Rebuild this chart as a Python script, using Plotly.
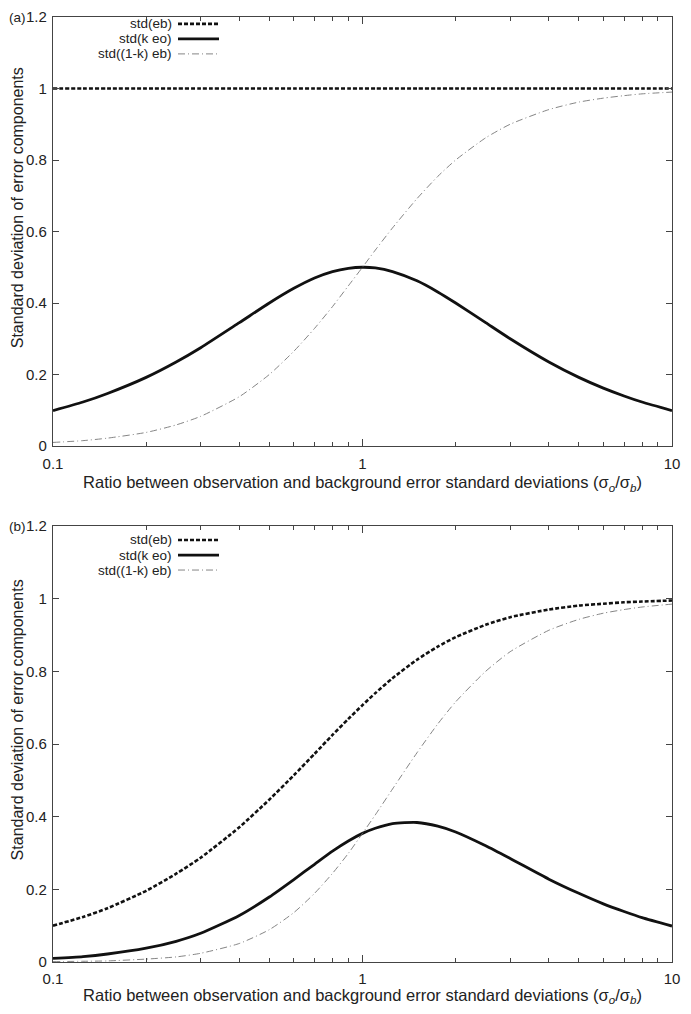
import plotly.graph_objects as go

# ratio sigma_o / sigma_b
ratio = [0.1, 0.125, 0.15, 0.2, 0.25, 0.3, 0.4, 0.5, 0.6, 0.7, 0.8, 0.9, 1.0,
         1.1, 1.25, 1.5, 1.75, 2, 2.5, 3, 4, 5, 6, 7, 8, 10]

# panel (a)
a_eb = [1.0] * len(ratio)
a_keo = [0.099, 0.123, 0.147, 0.192, 0.235, 0.275, 0.345, 0.400, 0.441, 0.470,
         0.488, 0.497, 0.500, 0.498, 0.488, 0.462, 0.431, 0.400, 0.345, 0.300,
         0.235, 0.192, 0.162, 0.140, 0.123, 0.099]
a_1keb = [0.010, 0.015, 0.022, 0.038, 0.059, 0.083, 0.138, 0.200, 0.265, 0.329,
          0.390, 0.448, 0.500, 0.548, 0.610, 0.692, 0.754, 0.800, 0.862, 0.900,
          0.941, 0.962, 0.973, 0.980, 0.985, 0.990]

# panel (b)
b_eb = [0.100, 0.124, 0.148, 0.196, 0.243, 0.287, 0.371, 0.447, 0.514, 0.573,
        0.625, 0.669, 0.707, 0.740, 0.781, 0.832, 0.868, 0.894, 0.928, 0.949,
        0.970, 0.981, 0.986, 0.990, 0.992, 0.995]
b_keo = [0.010, 0.015, 0.022, 0.038, 0.057, 0.079, 0.128, 0.179, 0.227, 0.269,
         0.305, 0.333, 0.354, 0.368, 0.381, 0.384, 0.374, 0.358, 0.320, 0.285,
         0.228, 0.189, 0.160, 0.139, 0.122, 0.099]
b_1keb = [0.001, 0.002, 0.003, 0.008, 0.014, 0.024, 0.051, 0.089, 0.136, 0.189,
          0.244, 0.299, 0.354, 0.405, 0.476, 0.576, 0.655, 0.716, 0.800, 0.854,
          0.913, 0.943, 0.960, 0.970, 0.977, 0.985]

series_names = ["std(eb)", "std(k eo)", "std((1-k) eb)"]
panel_labels = ["(a)", "(b)"]
x_ticks = [0.1, 1, 10]
x_ticktext = ["0.1", "1", "10"]
x_minor = [0.2, 0.3, 0.4, 0.5, 0.6, 0.7, 0.8, 0.9, 2, 3, 4, 5, 6, 7, 8, 9]
y_ticks = [0, 0.2, 0.4, 0.6, 0.8, 1, 1.2]
xtitle = "Ratio between observation and background error standard deviations (σ<sub><i>o</i></sub>/σ<sub><i>b</i></sub>)"
ytitle = "Standard deviation of error components"

styles = [
    dict(color="#111", width=2.6, dash="4px,2px"),
    dict(color="#111", width=2.8),
    dict(color="#777", width=0.9, dash="7px,3px,1px,3px"),
]

# page body has an 8px margin on every side; size the figure so the page fits the window
W, H = 675, 998
ML, MR, MT, MB = 45, 11, 9, 44
ph = H - MT - MB
plot_bottom = H - MB
dom_top = [(plot_bottom - 438) / ph, 1.0]
dom_bot = [0.0, (plot_bottom - 518) / ph]
pw = W - ML - MR

fig = go.Figure()
FONT = "Liberation Sans, Arial, sans-serif"

panels = [(a_eb, a_keo, a_1keb), (b_eb, b_keo, b_1keb)]
for i, data in enumerate(panels):
    xa = "x" if i == 0 else "x2"
    ya = "y" if i == 0 else "y2"
    for j, ys in enumerate(data):
        fig.add_trace(go.Scatter(x=ratio, y=ys, mode="lines", name=series_names[j],
                                 line=dict(shape="spline", smoothing=0.6, **styles[j]),
                                 xaxis=xa, yaxis=ya, showlegend=False))

axis_common = dict(
    showgrid=False, zeroline=False, showline=True, linecolor="#444", linewidth=1.3,
    mirror="ticks", ticks="inside", tickcolor="#444", tickwidth=1,
    tickfont=dict(family=FONT, size=15, color="#222"), automargin=False,
    ticklabeloverflow="allow",
)

for i, dom in enumerate([dom_top, dom_bot]):
    sfx = "" if i == 0 else "2"
    fig.layout["xaxis" + sfx] = dict(
        axis_common, type="log", range=[-1, 1], tickvals=x_ticks, ticktext=x_ticktext,
        ticklen=7, anchor="y" + sfx, domain=[0, 1],
        ticklabelstandoff=4 if i == 0 else 3,
        minor=dict(tickvals=x_minor, ticklen=4, ticks="inside", tickcolor="#444", tickwidth=1),
        title=dict(text=xtitle, font=dict(family=FONT, size=16.5, color="#222"),
                   standoff=5 if i == 0 else 4),
    )
    fig.layout["yaxis" + sfx] = dict(
        axis_common, range=[0, 1.2], tickvals=y_ticks, ticklen=6,
        anchor="x" + sfx, domain=dom, ticklabelstandoff=2,
    )
    # y-axis title, placed like the original (slightly above the panel centre)
    fig.add_annotation(text=ytitle, xref="paper", yref="y" + sfx,
                       x=-36 / pw, y=0.665, xanchor="center", yanchor="middle",
                       textangle=-90, showarrow=False, borderpad=0,
                       font=dict(family=FONT, size=16, color="#222"))

# panel labels
for i, lab in enumerate(panel_labels):
    sfx = "" if i == 0 else "2"
    fig.add_annotation(text=lab, xref="x" + sfx + " domain", yref="y" + sfx + " domain",
                       x=-ML / pw, y=1.0, xanchor="left", yanchor="middle",
                       showarrow=False, borderpad=0,
                       font=dict(family=FONT, size=13.5, color="#222"))

# manual legends (text left of line sample)
leg_rows = [[0.984, 0.949, 0.914], [0.968, 0.933, 0.899]]
for i in range(2):
    sfx = "" if i == 0 else "2"
    for j, name in enumerate(series_names):
        yy = leg_rows[i][j]
        fig.add_annotation(text=name, xref="x" + sfx + " domain", yref="y" + sfx + " domain",
                           x=(165 - ML) / pw, y=yy, xanchor="right", yanchor="middle",
                           showarrow=False, borderpad=0,
                           font=dict(family=FONT, size=13.5, color="#222"))
        fig.add_shape(type="line", xref="x" + sfx + " domain", yref="y" + sfx + " domain",
                      x0=(170 - ML) / pw, x1=(211 - ML) / pw, y0=yy, y1=yy,
                      line=styles[j])

fig.update_layout(
    width=W, height=H, margin=dict(l=ML, r=MR, t=MT, b=MB),
    plot_bgcolor="white", paper_bgcolor="white", showlegend=False,
    font=dict(family=FONT, size=15, color="#222"),
)

fig.write_html("out.html")
